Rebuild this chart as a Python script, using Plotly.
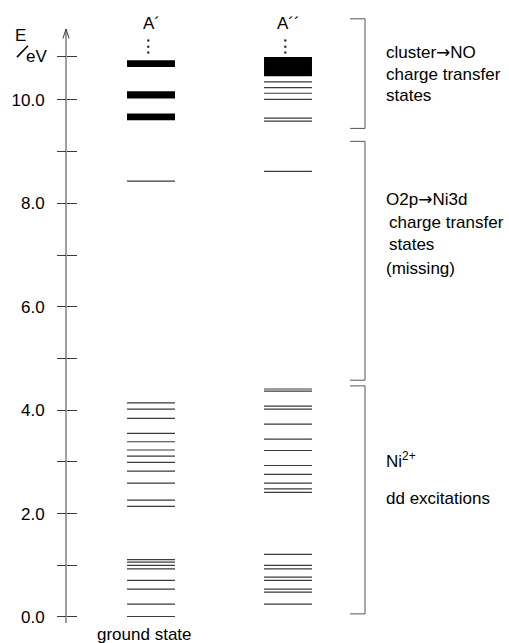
import plotly.graph_objects as go

# Energy levels (eV) of the two symmetry blocks
levels_a1 = [0.01, 0.25, 0.54, 0.71, 0.93, 1.00, 1.06, 1.11,
             2.14, 2.26, 2.59, 2.82, 2.99, 3.11, 3.23, 3.39, 3.55,
             3.84, 4.02, 4.14, 8.43]
levels_a2 = [0.25, 0.48, 0.54, 0.71, 0.77, 0.93, 1.00, 1.21,
             2.41, 2.48, 2.59, 2.76, 2.93, 3.22, 3.44, 3.73,
             4.02, 4.08, 4.37, 4.41, 8.62,
             9.59, 9.65, 10.01, 10.13, 10.24, 10.35]
# Dense groups of states drawn as solid bands (low, high)
bands_a1 = [(9.61, 9.74), (10.03, 10.17), (10.64, 10.77)]
bands_a2 = [(10.46, 10.83)]
# Ellipsis marks above the columns
dots_e = [10.92, 11.03, 11.15]

col_names = ["A\u00b4", "A\u00b4\u00b4"]
col_x = [1.0, 2.0]
half_w = 0.175

# Region brackets (top, bottom)
brackets = [(11.57, 9.45), (9.20, 4.58), (4.47, 0.06)]

major_ticks = [0, 2, 4, 6, 8, 10]
minor_ticks = [1, 3, 5, 7, 9, 10.85]

FONT = "Liberation Sans, Arial, sans-serif"
FS = 17
LINE = "#3a3a3a"
ARROW = "<span style='font-family:DejaVu Sans'>\u2192</span>"

fig = go.Figure()

# level lines
for cx, levels in zip(col_x, [levels_a1, levels_a2]):
    xs, ys = [], []
    for e in levels:
        xs += [cx - half_w, cx + half_w, None]
        ys += [e, e, None]
    fig.add_trace(go.Scatter(x=xs, y=ys, mode="lines",
                             line=dict(color=LINE, width=1.2),
                             hoverinfo="skip", showlegend=False))

# bands
for cx, bands in zip(col_x, [bands_a1, bands_a2]):
    fig.add_trace(go.Bar(x=[cx] * len(bands),
                         y=[hi - lo for lo, hi in bands],
                         base=[lo for lo, hi in bands],
                         width=2 * half_w,
                         marker=dict(color="black", line=dict(width=0)),
                         hoverinfo="skip", showlegend=False))

# ellipsis dots
for cx in col_x:
    fig.add_trace(go.Scatter(x=[cx - 0.02] * len(dots_e), y=dots_e, mode="markers",
                             marker=dict(color="#333", size=2.5),
                             hoverinfo="skip", showlegend=False))

# placeholder trace so the overlay axis is drawn
fig.add_trace(go.Scatter(x=[0.5], y=[5], yaxis="y2", mode="markers",
                         marker=dict(opacity=0), hoverinfo="skip", showlegend=False))

axis_x = 0.3796
y_lo, y_hi = -0.503, 11.934

# axis line and arrow head
fig.add_shape(type="line", xref="x", yref="y", x0=axis_x, x1=axis_x,
              y0=-0.116, y1=11.373, line=dict(color=LINE, width=1))
fig.add_shape(type="path", xref="x", yref="y",
              path=f"M {axis_x-0.022},11.19 L {axis_x},11.373 L {axis_x+0.022},11.19",
              line=dict(color=LINE, width=1))

# brackets
for top, bot in brackets:
    fig.add_shape(type="path", xref="x", yref="y",
                  path=f"M 2.453,{top} L 2.562,{top} L 2.562,{bot} L 2.453,{bot}",
                  line=dict(color="#555", width=1))

# E / eV axis title
fig.add_annotation(x=0.051, y=11.24, xref="x", yref="y", text="E", showarrow=False,
                   font=dict(family=FONT, size=FS, color="black"))
fig.add_annotation(x=0.075, y=10.84, xref="x", yref="y", text="eV", showarrow=False,
                   xanchor="left", font=dict(family=FONT, size=FS, color="black"))
fig.add_shape(type="line", xref="x", yref="y", x0=0.022, x1=0.102, y0=10.83, y1=11.05,
              line=dict(color="black", width=1.6))

# column headers
for cx, name in zip(col_x, col_names):
    fig.add_annotation(x=cx, y=11.48, xref="x", yref="y", text=name, showarrow=False,
                       font=dict(family=FONT, size=FS, color="black"))

fig.add_annotation(x=0.955, y=-0.33, xref="x", yref="y", text="ground state",
                   showarrow=False, font=dict(family=FONT, size=FS, color="black"))

notes = [
    (2.701, 10.93, "cluster" + ARROW + "NO"),
    (2.701, 10.50, "charge transfer"),
    (2.701, 10.08, "states"),
    (2.701, 8.09, "O2p" + ARROW + "Ni3d"),
    (2.725, 7.64, "charge transfer"),
    (2.725, 7.20, "states"),
    (2.701, 6.75, "(missing)"),
    (2.701, 3.04, "Ni<sup>2+</sup>"),
    (2.701, 2.30, "dd excitations"),
]
for x, y, t in notes:
    fig.add_annotation(x=x, y=y, xref="x", yref="y", text=t, showarrow=False,
                       xanchor="left", yanchor="middle",
                       font=dict(family=FONT, size=FS, color="black"))

fig.update_layout(
    width=509, height=643,
    margin=dict(l=0, r=0, t=0, b=0),
    paper_bgcolor="white", plot_bgcolor="white",
    showlegend=False,
    barmode="overlay",
    xaxis=dict(range=[-0.1022, 3.6131], domain=[0, 1], visible=False, fixedrange=True),
    yaxis=dict(range=[y_lo, y_hi], domain=[0, 1], anchor="free", position=0.1297,
               showgrid=False, zeroline=False, showline=False,
               tickmode="array", tickvals=major_ticks, tickformat=".1f",
               ticks="outside", ticklen=9, tickwidth=1, tickcolor=LINE,
               ticklabelstandoff=9,
               tickfont=dict(family=FONT, size=FS, color="black"),
               minor=dict(tickmode="array", tickvals=minor_ticks, ticks="outside",
                          ticklen=9, tickwidth=1, tickcolor=LINE, showgrid=False)),
    yaxis2=dict(range=[y_lo, y_hi], overlaying="y", anchor="free", position=0.1297,
                side="left", showgrid=False, zeroline=False, showline=False,
                showticklabels=False, tickmode="array",
                tickvals=major_ticks + minor_ticks,
                ticks="inside", ticklen=10, tickwidth=1, tickcolor=LINE),
)

fig.write_html("out.html")
